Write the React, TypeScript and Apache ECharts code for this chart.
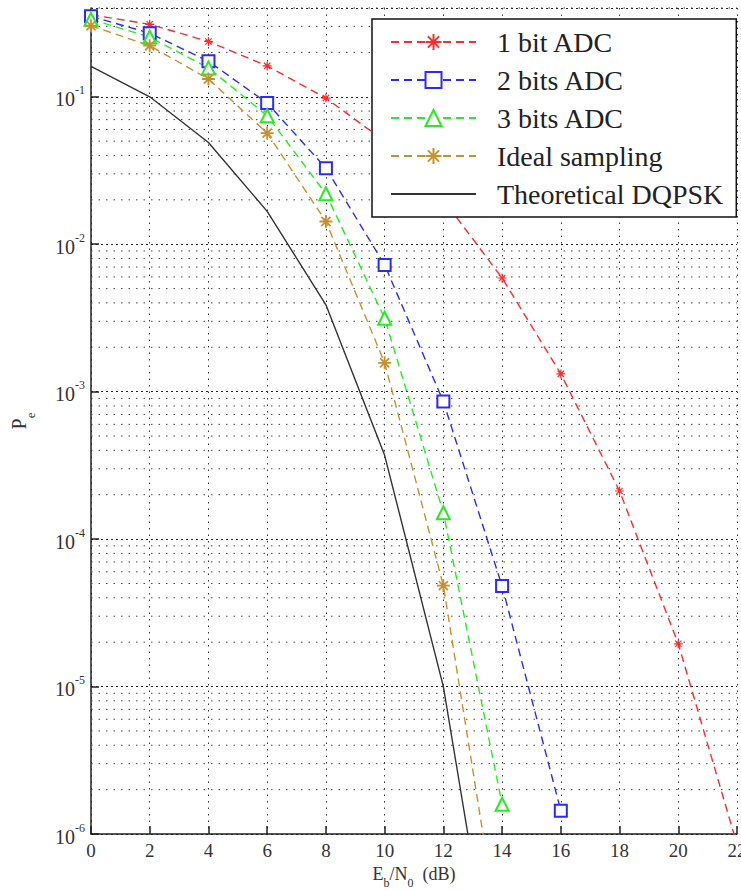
import React, { useEffect, useRef } from "react";
import * as echarts from "echarts";

const snrDb = [0, 2, 4, 6, 8, 10, 12, 14, 16, 18, 20, 22];
const oneBitAdc = [0.36, 0.31, 0.237, 0.162, 0.098, 0.05, 0.02, 0.0059, 0.00132, 2.12e-4, 1.95e-5, 8.5e-7];
const twoBitsAdc = [0.351, 0.27, 0.174, 0.0906, 0.0328, 0.00724, 8.57e-4, 4.8e-5, 1.44e-6];
const threeBitsAdc = [0.335, 0.254, 0.157, 0.0743, 0.022, 0.00315, 1.51e-4, 1.59e-6];
const idealSampling = [0.303, 0.222, 0.132, 0.0567, 0.01426, 1.57e-3, 4.84e-5, 1.55e-7];
const theoreticalDqpsk = [0.161, 0.1, 0.049, 0.0167, 0.00388, 3.7e-4, 1.0e-5, 4e-8];
const seriesNames = ["1 bit ADC", "2 bits ADC", "3 bits ADC", "Ideal sampling", "Theoretical DQPSK"];
const minorGridValues: number[] = [];
for (let e = -6; e <= -1; e++) {
  for (let m = 2; m <= 9; m++) {
    const v = m * Math.pow(10, e);
    if (v <= 0.4 + 1e-9) minorGridValues.push(v);
  }
}

const FONT = "'Liberation Serif', 'Times New Roman', serif";
const ASTERISK = "path://M-1,0L1,0M0,-1L0,1M-0.7,-0.7L0.7,0.7M-0.7,0.7L0.7,-0.7";

function pairs(vals: number[]) {
  return vals.map((v, i) => [snrDb[i], v]);
}

export default function App() {
  const ref = useRef<HTMLDivElement>(null);
  useEffect(() => {
    if (!ref.current) return;
    const chart = echarts.init(ref.current, null, { renderer: "svg" });
    const dash = [8, 5];
    const option: any = {
      animation: false,
      backgroundColor: "#fff",
      grid: { left: 91, right: 4, top: 8, bottom: 56, containLabel: false, outerBoundsMode: "none" },
      xAxis: {
        type: "value",
        min: 0,
        max: 22,
        interval: 2,
        name: "E{sub|b}/N{sub|0}  (dB)",
        nameLocation: "middle",
        nameGap: 31,
        nameTextStyle: {
          fontFamily: FONT,
          fontSize: 18,
          color: "#333",
          rich: { sub: { fontFamily: FONT, fontSize: 12, color: "#333", verticalAlign: "bottom", padding: [0, 0, -6, 0] } },
        },
        axisLine: { lineStyle: { color: "#222", width: 1.5 } },
        axisTick: { inside: true, length: 8, lineStyle: { color: "#222", width: 1.5 } },
        axisLabel: { fontFamily: FONT, fontSize: 19, color: "#333", margin: 7 },
        splitLine: { show: true, lineStyle: { type: [1.5, 5], color: "#333", width: 1 } },
      },
      yAxis: {
        type: "log",
        min: 1e-6,
        max: 0.4,
        logBase: 10,
        name: "P{sub|e}",
        nameLocation: "middle",
        nameRotate: 90,
        nameGap: 62,
        nameTextStyle: {
          fontFamily: FONT,
          fontSize: 20,
          color: "#333",
          rich: { sub: { fontFamily: FONT, fontSize: 13, color: "#333", verticalAlign: "bottom", padding: [0, 0, -8, 0] } },
        },
        axisLine: { show: true, lineStyle: { color: "#222", width: 1.5 } },
        axisTick: { inside: true, length: 8, lineStyle: { color: "#222", width: 1.5 } },
        axisLabel: {
          showMaxLabel: false,
          margin: 6,
          fontFamily: FONT,
          color: "#333",
          formatter: (v: number) => "{b|10}{s|" + Math.round(Math.log10(v)) + "}",
          rich: {
            b: { fontFamily: FONT, fontSize: 20, color: "#333", verticalAlign: "bottom" },
            s: { fontFamily: FONT, fontSize: 12, color: "#333", verticalAlign: "bottom", padding: [0, 0, 13, 0] },
          },
        },
        splitLine: { show: true, lineStyle: { type: [2, 3], color: "#222", width: 1 } },
      },
      legend: {
        left: 372,
        top: 19,
        orient: "vertical",
        backgroundColor: "#fff",
        borderColor: "#111",
        borderWidth: 1.5,
        padding: [9, 13, 9, 18],
        itemWidth: 85,
        itemHeight: 20,
        itemGap: 10,
        textStyle: { fontFamily: FONT, fontSize: 28, color: "#222", padding: [0, 0, 0, 16] },
        data: [
          { name: seriesNames[0] },
          { name: seriesNames[1] },
          { name: seriesNames[2] },
          { name: seriesNames[3] },
          { name: seriesNames[4], itemStyle: { opacity: 0 } },
        ],
        z: 10,
      },
      series: [
        {
          name: "minor grid",
          type: "custom",
          silent: true,
          z: 1,
          data: minorGridValues.map((v) => [0, v]),
          renderItem: (params: any, api: any) => {
            const v = api.value(1);
            const p0 = api.coord([0, v]);
            const p1 = api.coord([22, v]);
            return {
              type: "line",
              shape: { x1: p0[0], y1: p0[1], x2: p1[0], y2: p1[1] },
              style: { stroke: "#444", lineWidth: 1, lineDash: [1.5, 6], fill: null },
            };
          },
        },
        {
          name: seriesNames[0],
          type: "line",
          data: pairs(oneBitAdc),
          symbol: ASTERISK,
          symbolSize: 9,
          lineStyle: { color: "#ff2a2a", width: 1.4, type: dash },
          itemStyle: { color: "#ff2a2a", borderColor: "#ff2a2a", borderWidth: 1.2 },
          z: 5,
        },
        {
          name: seriesNames[1],
          type: "line",
          data: pairs(twoBitsAdc),
          symbol: "emptyRect",
          symbolSize: 12,
          lineStyle: { color: "#2a2aff", width: 1.4, type: dash },
          itemStyle: { color: "#2a2aff", borderWidth: 1.4 },
          z: 5,
        },
        {
          name: seriesNames[2],
          type: "line",
          data: pairs(threeBitsAdc),
          symbol: "emptyTriangle",
          symbolSize: 13,
          lineStyle: { color: "#22ee22", width: 1.4, type: dash },
          itemStyle: { color: "#22ee22", borderWidth: 1.4 },
          z: 5,
        },
        {
          name: seriesNames[3],
          type: "line",
          data: pairs(idealSampling),
          symbol: ASTERISK,
          symbolSize: 13,
          lineStyle: { color: "#c8902e", width: 1.4, type: dash },
          itemStyle: { color: "#c8902e", borderColor: "#c8902e", borderWidth: 1.8 },
          z: 5,
        },
        {
          name: seriesNames[4],
          type: "line",
          data: pairs(theoreticalDqpsk),
          symbol: "none",
          lineStyle: { color: "#333", width: 1.4, type: "solid" },
          itemStyle: { color: "#333" },
          z: 4,
        },
      ],
    };
    chart.setOption(option);
    return () => chart.dispose();
  }, []);
  return (
    <div
      ref={ref}
      style={{ position: "fixed", left: 0, top: 0, width: 741, height: 890, background: "#fff" }}
    />
  );
}
